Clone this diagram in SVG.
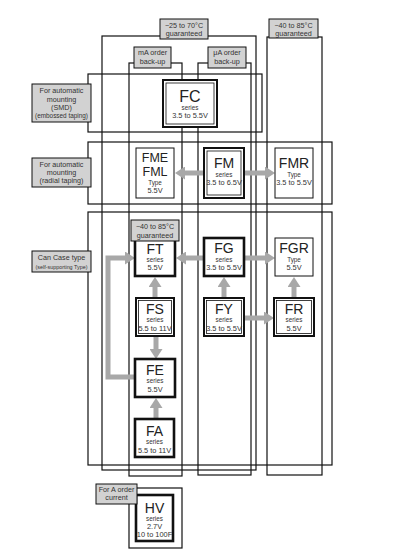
<svg xmlns="http://www.w3.org/2000/svg" width="412" height="552" viewBox="0 0 412 552">
<style>
.frame{fill:none;stroke:#111;stroke-width:1.2}
.lab{fill:#d2d2d2;stroke:#111;stroke-width:1}
.lt{font-family:"Liberation Sans",Arial,sans-serif;font-size:7.2px;fill:#333;text-anchor:middle}
.node{fill:#fff;stroke:#111}
.thin{stroke-width:1}
.thick{stroke-width:2.6}
.dbl{stroke-width:2}
.inner{fill:none;stroke:#111;stroke-width:0.8}
.t1{font-family:"Liberation Sans",Arial,sans-serif;font-size:14px;fill:#222;text-anchor:middle}
.t2{font-family:"Liberation Sans",Arial,sans-serif;font-size:6.3px;fill:#333;text-anchor:middle}
.t3{font-family:"Liberation Sans",Arial,sans-serif;font-size:7.4px;fill:#333;text-anchor:middle}
.arr{fill:none;stroke:#a8a8a8;stroke-width:5}
</style>
<defs>
<marker id="ah" markerUnits="userSpaceOnUse" markerWidth="11" markerHeight="13" refX="0" refY="6.5" orient="auto"><path d="M0,0 L10,6.5 L0,13 z" fill="#a8a8a8"/></marker>
</defs>

<g id="frames">
<rect class="frame" x="102" y="36" width="154" height="434"/>
<rect class="frame" x="129" y="63" width="53" height="413"/>
<rect class="frame" x="198" y="63" width="53" height="412"/>
<rect class="frame" x="267" y="37" width="55" height="438"/>
<rect class="frame" x="88" y="74" width="174" height="58"/>
<rect class="frame" x="88" y="142" width="244" height="62"/>
<rect class="frame" x="88" y="212" width="244" height="253"/>
<rect class="frame" x="129" y="488" width="53" height="60"/>
</g>

<g id="labels">
<g id="lab-25"><rect class="lab" x="160" y="19" width="48" height="20"/><text class="lt" x="184" y="28">−25 to 70°C</text><text class="lt" x="184" y="36">guaranteed</text></g>
<g id="lab-40"><rect class="lab" x="269" y="19" width="49" height="19"/><text class="lt" x="293.5" y="28">−40 to 85°C</text><text class="lt" x="293.5" y="36">guaranteed</text></g>
<g id="lab-mA"><rect class="lab" x="134" y="47" width="37" height="21"/><text class="lt" x="152.5" y="55">mA order</text><text class="lt" x="152.5" y="63.5">back-up</text></g>
<g id="lab-uA"><rect class="lab" x="208" y="47" width="38" height="21"/><text class="lt" x="227" y="55">μA order</text><text class="lt" x="227" y="63.5">back-up</text></g>
<g id="lab-smd"><rect class="lab" x="32" y="84" width="59" height="38"/><text class="lt" x="61.5" y="93">For automatic</text><text class="lt" x="61.5" y="101.5">mounting</text><text class="lt" x="61.5" y="110">(SMD)</text><text class="lt" x="61.5" y="118" style="font-size:6.4px">(embossed taping)</text></g>
<g id="lab-radial"><rect class="lab" x="32" y="158" width="59" height="29"/><text class="lt" x="61.5" y="166.5">For automatic</text><text class="lt" x="61.5" y="174.5">mounting</text><text class="lt" x="61.5" y="182.5">(radial taping)</text></g>
<g id="lab-can"><rect class="lab" x="32" y="251" width="59" height="21"/><text class="lt" x="61.5" y="259.5">Can Case type</text><text class="lt" x="61.5" y="268.5" style="font-size:5.4px">(self-supporting Type)</text></g>
</g>

<g id="connectors">
<line class="arr" x1="204" y1="173" x2="185" y2="173" marker-end="url(#ah)"/>
<line class="arr" x1="244" y1="173" x2="265" y2="173" marker-end="url(#ah)"/>
<line class="arr" x1="204" y1="258" x2="186" y2="258" marker-end="url(#ah)"/>
<line class="arr" x1="244" y1="258" x2="265" y2="258" marker-end="url(#ah)"/>
<line class="arr" x1="155" y1="298" x2="155" y2="287" marker-end="url(#ah)"/>
<line class="arr" x1="224" y1="298" x2="224" y2="287" marker-end="url(#ah)"/>
<line class="arr" x1="294" y1="298" x2="294" y2="287" marker-end="url(#ah)"/>
<line class="arr" x1="156" y1="336" x2="156" y2="349" marker-end="url(#ah)"/>
<line class="arr" x1="156" y1="419" x2="156" y2="408" marker-end="url(#ah)"/>
<line class="arr" x1="244" y1="318" x2="264" y2="318" marker-end="url(#ah)"/>
<path class="arr" d="M135,377 H108 V258 H125" marker-end="url(#ah)"/>
</g>

<g id="FC"><rect class="node dbl" x="163" y="80" width="54" height="47"/><rect class="inner" x="166" y="83" width="48" height="41"/><text class="t1" x="190" y="102" style="font-size:16px">FC</text><text class="t2" x="190" y="110">series</text><text class="t3" x="190" y="118">3.5 to 5.5V</text></g>

<g id="FME"><rect class="node thin" x="136" y="148" width="38" height="50"/><text class="t1" x="155" y="161.5" style="font-size:12.5px">FME</text><text class="t1" x="155" y="176" style="font-size:12.5px">FML</text><text class="t2" x="155" y="184.5">Type</text><text class="t3" x="155" y="192.5">5.5V</text></g>
<g id="FM"><rect class="node dbl" x="204" y="148" width="40" height="50"/><rect class="inner" x="207" y="151" width="34" height="44"/><text class="t1" x="224" y="168">FM</text><text class="t2" x="224" y="177">series</text><text class="t3" x="224" y="185">3.5 to 6.5V</text></g>
<g id="FMR"><rect class="node thin" x="275" y="148" width="38" height="50"/><text class="t1" x="294" y="168">FMR</text><text class="t2" x="294" y="177">Type</text><text class="t3" x="294" y="185">3.5 to 5.5V</text></g>

<g id="FT"><rect class="node thick" x="135" y="238" width="40" height="38"/><text class="t1" x="155" y="254">FT</text><text class="t2" x="155" y="262">series</text><text class="t3" x="155" y="270">5.5V</text></g>
<g id="lab-ft"><rect class="lab" x="131" y="220" width="48" height="21"/><text class="lt" x="155" y="229">−40 to 85°C</text><text class="lt" x="155" y="237.5">guaranteed</text></g>
<g id="FG"><rect class="node thick" x="204" y="238" width="40" height="38"/><text class="t1" x="224" y="253">FG</text><text class="t2" x="224" y="262">series</text><text class="t3" x="224" y="270">3.5 to 5.5V</text></g>
<g id="FGR"><rect class="node thin" x="275" y="238" width="38" height="38"/><text class="t1" x="294" y="253">FGR</text><text class="t2" x="294" y="262">Type</text><text class="t3" x="294" y="270">5.5V</text></g>

<g id="FS"><rect class="node dbl" x="136" y="298" width="38" height="38"/><rect class="inner" x="138.5" y="300.5" width="33" height="33"/><text class="t1" x="155" y="314">FS</text><text class="t2" x="155" y="322">series</text><text class="t3" x="155" y="331">5.5 to 11V</text></g>
<g id="FY"><rect class="node dbl" x="204" y="298" width="40" height="38"/><rect class="inner" x="206.5" y="300.5" width="35" height="33"/><text class="t1" x="224" y="314">FY</text><text class="t2" x="224" y="322">series</text><text class="t3" x="224" y="331">3.5 to 5.5V</text></g>
<g id="FR"><rect class="node dbl" x="274" y="298" width="40" height="38"/><rect class="inner" x="276.5" y="300.5" width="35" height="33"/><text class="t1" x="294" y="314">FR</text><text class="t2" x="294" y="322">series</text><text class="t3" x="294" y="331">5.5V</text></g>

<g id="FE"><rect class="node thick" x="135" y="359" width="40" height="38"/><text class="t1" x="155" y="375">FE</text><text class="t2" x="155" y="383">series</text><text class="t3" x="155" y="392">5.5V</text></g>
<g id="FA"><rect class="node thick" x="135" y="419" width="39" height="38"/><text class="t1" x="154.5" y="436">FA</text><text class="t2" x="154.5" y="444">series</text><text class="t3" x="154.5" y="453">5.5 to 11V</text></g>

<g id="HV"><rect class="node thick" x="136" y="495" width="37" height="46"/><text class="t1" x="154.5" y="513">HV</text><text class="t2" x="154.5" y="520.5">series</text><text class="t3" x="154.5" y="528.5">2.7V</text><text class="t3" x="154.5" y="537">10 to 100F</text></g>
<g id="lab-A"><rect class="lab" x="96" y="484" width="41" height="20"/><text class="lt" x="116.5" y="492">For A order</text><text class="lt" x="116.5" y="500">current</text></g>
</svg>
